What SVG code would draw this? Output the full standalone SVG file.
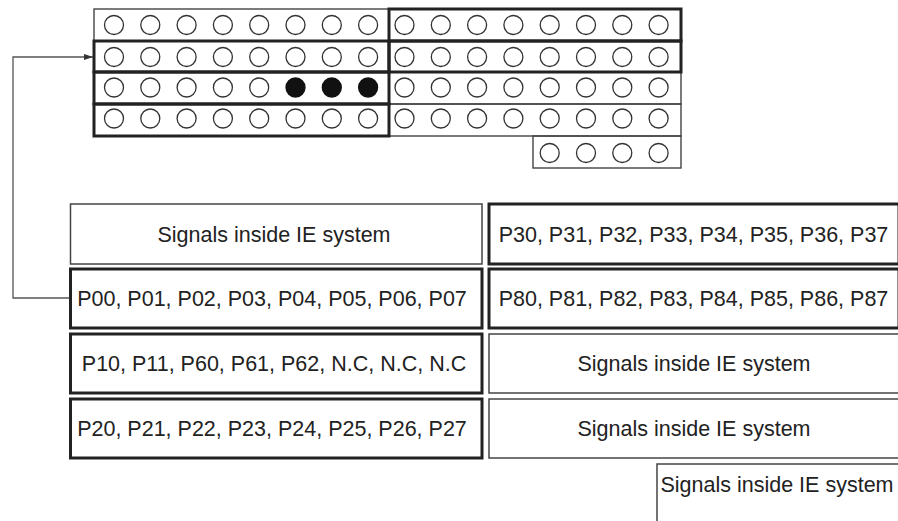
<svg xmlns="http://www.w3.org/2000/svg" width="898" height="521" viewBox="0 0 898 521">
<style>
.thin{fill:none;stroke:#444;stroke-width:1.4}
.thick{fill:none;stroke:#222;stroke-width:3}
.bthin{fill:#fff;stroke:#444;stroke-width:1.5}
.bthick{fill:#fff;stroke:#222;stroke-width:3}
.o{fill:#fff;stroke:#333;stroke-width:1.3}
.f{fill:#111;stroke:#111;stroke-width:1.3}
.t{font-family:"Liberation Sans",Arial,sans-serif;font-size:21.5px;fill:#222;text-anchor:middle}
.c{fill:none;stroke:#555;stroke-width:1.3}
</style>
<defs>
<marker id="ah" markerWidth="10" markerHeight="8" refX="9" refY="4" orient="auto" markerUnits="userSpaceOnUse">
<path d="M0,1 L9,4 L0,7 Z" fill="#333"/>
</marker>
<g id="row8">
<circle class="o" cx="0" cy="0" r="9.5"/><circle class="o" cx="36.3" cy="0" r="9.5"/><circle class="o" cx="72.6" cy="0" r="9.5"/><circle class="o" cx="108.9" cy="0" r="9.5"/><circle class="o" cx="145.2" cy="0" r="9.5"/><circle class="o" cx="181.5" cy="0" r="9.5"/><circle class="o" cx="217.8" cy="0" r="9.5"/><circle class="o" cx="254.1" cy="0" r="9.5"/>
</g>
</defs>
<rect width="898" height="521" fill="#fff"/>

<g id="connectors">
<path class="c" d="M70,298 H13 V57 H93" marker-end="url(#ah)"/>
</g>

<g id="pin-grid">
<!-- thin cells -->
<rect class="thin" x="94" y="9" width="295" height="32"/>
<rect class="thin" x="389" y="72" width="292" height="32"/>
<rect class="thin" x="389" y="104" width="292" height="32"/>
<rect class="thin" x="533" y="136" width="148" height="32"/>
<!-- thick cells -->
<rect class="thick" x="389" y="9" width="292" height="32"/>
<rect class="thick" x="94" y="41" width="295" height="31"/>
<rect class="thick" x="389" y="41" width="292" height="31"/>
<rect class="thick" x="94" y="72" width="295" height="32"/>
<rect class="thick" x="94" y="104" width="295" height="32"/>
<!-- circles -->
<use href="#row8" x="114" y="25"/>
<use href="#row8" x="404.5" y="25"/>
<use href="#row8" x="114" y="57"/>
<use href="#row8" x="404.5" y="57"/>
<circle class="o" cx="114" cy="87.5" r="9.5"/><circle class="o" cx="150.3" cy="87.5" r="9.5"/><circle class="o" cx="186.6" cy="87.5" r="9.5"/><circle class="o" cx="222.9" cy="87.5" r="9.5"/><circle class="o" cx="259.2" cy="87.5" r="9.5"/>
<circle class="f" cx="295.5" cy="87.5" r="9.5"/><circle class="f" cx="331.8" cy="87.5" r="9.5"/><circle class="f" cx="368.1" cy="87.5" r="9.5"/>
<use href="#row8" x="404.5" y="87.5"/>
<use href="#row8" x="114" y="118.5"/>
<use href="#row8" x="404.5" y="118.5"/>
<circle class="o" cx="549.7" cy="153" r="9.5"/><circle class="o" cx="586" cy="153" r="9.5"/><circle class="o" cx="622.3" cy="153" r="9.5"/><circle class="o" cx="658.6" cy="153" r="9.5"/>
</g>

<g id="box-l1"><rect class="bthin" x="70.5" y="204" width="411.5" height="60"/><text class="t" x="274" y="242">Signals inside IE system</text></g>
<g id="box-r1"><rect class="bthick" x="489" y="204" width="410" height="60"/><text class="t" x="693.5" y="242">P30, P31, P32, P33, P34, P35, P36, P37</text></g>
<g id="box-l2"><rect class="bthick" x="70.5" y="269" width="411.5" height="59"/><text class="t" x="272" y="306">P00, P01, P02, P03, P04, P05, P06, P07</text></g>
<g id="box-r2"><rect class="bthick" x="489" y="269" width="410" height="59"/><text class="t" x="693.5" y="306">P80, P81, P82, P83, P84, P85, P86, P87</text></g>
<g id="box-l3"><rect class="bthick" x="70.5" y="334" width="411.5" height="59"/><text class="t" x="274" y="371">P10, P11, P60, P61, P62, N.C, N.C, N.C</text></g>
<g id="box-r3"><rect class="bthin" x="489" y="334" width="410" height="59"/><text class="t" x="694" y="371">Signals inside IE system</text></g>
<g id="box-l4"><rect class="bthick" x="70.5" y="399" width="411.5" height="59"/><text class="t" x="272" y="436">P20, P21, P22, P23, P24, P25, P26, P27</text></g>
<g id="box-r4"><rect class="bthin" x="489" y="399" width="410" height="59"/><text class="t" x="694" y="436">Signals inside IE system</text></g>
<g id="box-r5"><path class="bthin" d="M657,522 V464 H899"/><text class="t" x="777" y="492">Signals inside IE system</text></g>
</svg>
